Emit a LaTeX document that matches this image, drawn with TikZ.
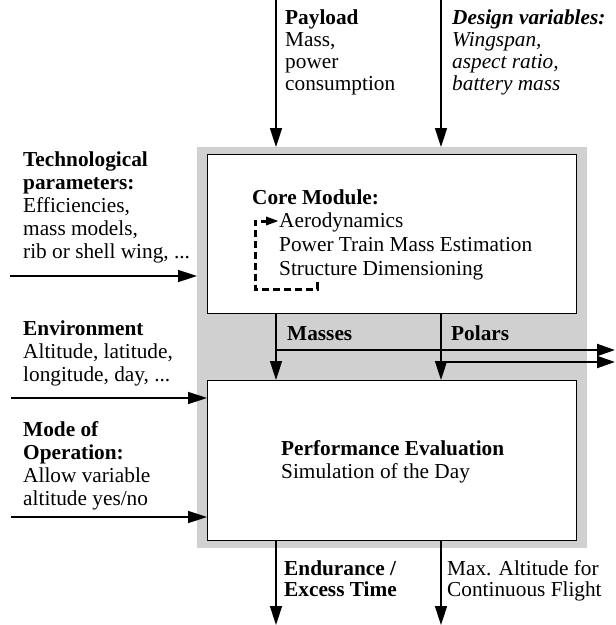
\documentclass[tikz,border=0pt]{standalone}
\usepackage{fontspec}
\setmainfont{Liberation Serif}
\usetikzlibrary{arrows.meta}
\definecolor{bggray}{RGB}{208,208,208}
\begin{document}
\begin{tikzpicture}[x=1pt,y=-1pt,
  txt/.style={anchor=base west, inner sep=0pt, align=left, font=\fontsize{21.3}{#1}\selectfont},
  txt/.default=23,
  arr/.style={line width=1.5pt, -{Triangle[length=19pt,width=12pt]}},
  arrw/.style={line width=2pt, -{Triangle[length=18pt,width=12pt]}},
  box/.style={draw=black, line width=1.2pt, fill=white, inner sep=0pt, minimum width=369pt, anchor=north west},
  loopline/.style={line width=3pt, dash pattern=on 7pt off 4pt, -{Triangle[length=13pt,width=8pt]}},
]
\useasboundingbox (0,0) rectangle (616,625);
% background and boxes
\node[fill=bggray, inner sep=0pt, minimum width=390pt, minimum height=401pt, anchor=north west] (bg) at (197,147) {};
\node[box, minimum height=159pt] (core) at (207,154) {};
\node[box, minimum height=160pt] (perf) at (207,380) {};

% top inputs (base anchor = last line's baseline)
\coordinate (pl0) at (276,0);
\coordinate (dv0) at (441,0);
\draw[arr] (pl0) -- (pl0 |- bg.north);
\draw[arr] (dv0) -- (dv0 |- bg.north);
\node[txt=22] (payload) at (285,90) {\textbf{Payload}\\Mass,\\power\\consumption};
\node[txt=22] (design) at (452,90) {\textbf{\textit{Design variables:}}\\\textit{Wingspan,}\\\textit{aspect ratio,}\\\textit{battery mass}};

% left inputs
\node[txt] (tech) at (23,258) {\textbf{Technological}\\\textbf{parameters:}\\Efficiencies,\\mass models,\\rib or shell wing, ...};
\coordinate (t0) at (10,276);
\draw[arr] (t0) -- (t0 -| bg.west);
\node[txt] (env) at (23,381) {\textbf{Environment}\\Altitude, latitude,\\longitude, day, ...};
\coordinate (e0) at (11,398);
\draw[arr] (e0) -- (e0 -| perf.west);
\node[txt] (mode) at (23,505) {\textbf{Mode of}\\\textbf{Operation:}\\Allow variable\\altitude yes/no};
\coordinate (m0) at (11,517);
\draw[arr] (m0) -- (m0 -| perf.west);

% core module text
\node[txt] (coretitle) at (252,204) {\textbf{Core Module:}};
\node[txt=24] (coreitems) at (279,275) {Aerodynamics\\Power Train Mass Estimation\\Structure Dimensioning};
\coordinate (d1) at (317,282);
\coordinate (d2) at (317,289);
\coordinate (d3) at (255,289);
\coordinate (d4) at (255,221);
\draw[loopline] (d1) -- (d2) -- (d3) -- (d4) -- (d4 -| coreitems.west);

% masses and polars
\draw[arr] (core.south -| pl0) -- (perf.north -| pl0);
\draw[arr] (core.south -| dv0) -- (perf.north -| dv0);
\coordinate (mR) at (615,350);
\coordinate (pR) at (615,362);
\draw[arrw] (mR -| pl0) -- (mR);
\draw[arrw] (pR -| dv0) -- (pR);
\node[txt] (masses) at (287,340) {\textbf{Masses}};
\node[txt] (polars) at (451,340) {\textbf{Polars}};

% performance text
\node[txt] (perftext) at (281,478) {\textbf{Performance Evaluation}\\Simulation of the Day};

% outputs
\coordinate (o1) at (276,625);
\coordinate (o2) at (441,625);
\draw[arr] (perf.south -| o1) -- (o1);
\draw[arr] (perf.south -| o2) -- (o2);
\node[txt=21] (endur) at (284,596) {\textbf{Endurance /}\\\textbf{Excess Time}};
\node[txt=21] (maxalt) at (447,596) {Max. Altitude for\\Continuous Flight};
\end{tikzpicture}
\end{document}
